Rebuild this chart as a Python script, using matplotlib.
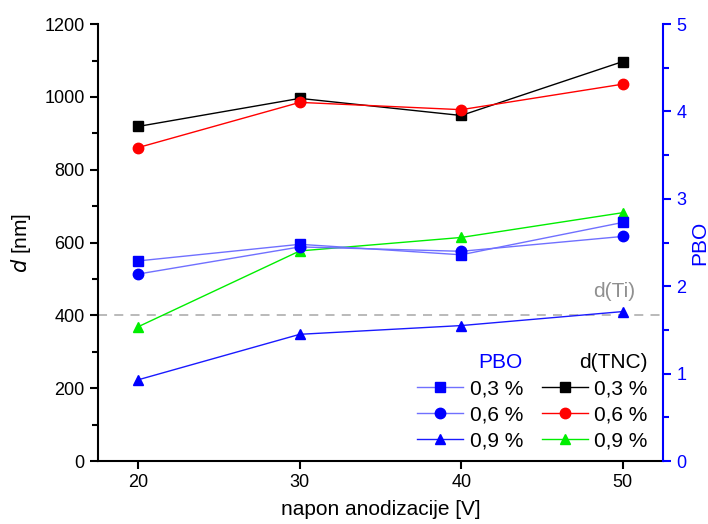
import matplotlib
matplotlib.use("Agg")
import matplotlib.pyplot as plt
from matplotlib.ticker import MultipleLocator

plt.rcParams['font.family'] = ['Liberation Sans', 'DejaVu Sans']

# --- DATOS ---
napon = [20, 30, 40, 50]
labels = ["0,3 %", "0,6 %", "0,9 %"]

# d(TNC) [nm], eje izquierdo
d_03 = [919, 996, 949, 1097]
d_06 = [861, 985, 965, 1035]
d_09 = [369, 577, 614, 682]

# PBO, eje derecho
pbo_03 = [2.29, 2.48, 2.36, 2.73]
pbo_06 = [2.14, 2.45, 2.40, 2.57]
pbo_09 = [0.93, 1.45, 1.55, 1.71]

d_ti = 400

# --- FIGURA ---
fig = plt.figure(figsize=(7.08, 5.24), dpi=100)
ax = fig.add_axes([0.1384, 0.1202, 0.7980, 0.8338])
ax2 = ax.twinx()

ax.axhline(d_ti, color='#b4b4b4', lw=1.3, ls=(0, (5, 4)), zorder=1)
ax.text(49.5, 465, "d(Ti)", color='#909090', fontsize=15, ha='center', va='center')

ms = 7.5
d_lines = []
for y, c, m in zip([d_03, d_06, d_09], ['black', 'red', '#00ee00'], ['s', 'o', '^']):
    ln, = ax.plot(napon, y, color=c, marker=m, ms=ms, lw=1, mec=c, mfc=c)
    d_lines.append(ln)

pbo_lines = []
for y, c, m in zip([pbo_03, pbo_06, pbo_09], ['#7070ff', '#7070ff', '#1a1aff'], ['s', 'o', '^']):
    ln, = ax2.plot(napon, y, color=c, marker=m, ms=ms, lw=1, mec='blue', mfc='blue')
    pbo_lines.append(ln)

# ejes
ax.set_xlim(17.5, 52.5)
ax.set_ylim(0, 1200)
ax2.set_ylim(0, 5)
ax.xaxis.set_major_locator(MultipleLocator(10))
ax.yaxis.set_major_locator(MultipleLocator(200))
ax.yaxis.set_minor_locator(MultipleLocator(100))
ax2.yaxis.set_major_locator(MultipleLocator(1))
ax2.yaxis.set_minor_locator(MultipleLocator(0.5))

for a in (ax, ax2):
    a.spines['top'].set_visible(False)
    for s in a.spines.values():
        s.set_linewidth(1.5)
ax.spines['right'].set_visible(False)
ax2.spines['left'].set_visible(False)
ax2.spines['bottom'].set_visible(False)
ax2.spines['right'].set_color('blue')

ax.tick_params(axis='both', which='major', direction='out', length=6, width=1.5, labelsize=13)
ax.tick_params(axis='y', which='minor', direction='out', length=4, width=1.5)
ax2.tick_params(axis='y', which='major', direction='out', length=6, width=1.5,
                colors='blue', labelsize=13)
ax2.tick_params(axis='y', which='minor', direction='out', length=4, width=1.5, colors='blue')

ax.set_xlabel("napon anodizacije [V]", fontsize=15, labelpad=6)
ax.set_ylabel(r"$\it{d}$ [nm]", fontsize=15, labelpad=8)
ax2.set_ylabel("PBO", fontsize=15, color='blue', labelpad=3)

# leyendas
leg_kw = dict(frameon=False, fontsize=15, handlelength=2.2, handletextpad=0.3,
              labelspacing=0.35, numpoints=1, borderpad=0, alignment='right')
leg1 = ax2.legend(pbo_lines, labels, title="PBO", loc='lower left',
                  bbox_to_anchor=(0.547, 0.0), **leg_kw)
leg1.get_title().set_color('blue')
leg1.get_title().set_fontsize(15)
ax2.add_artist(leg1)
leg2 = ax2.legend(d_lines, labels, title="d(TNC)", loc='lower left',
                  bbox_to_anchor=(0.767, 0.0), **leg_kw)
leg2.get_title().set_fontsize(15)

fig.savefig("out.png", dpi=100)
